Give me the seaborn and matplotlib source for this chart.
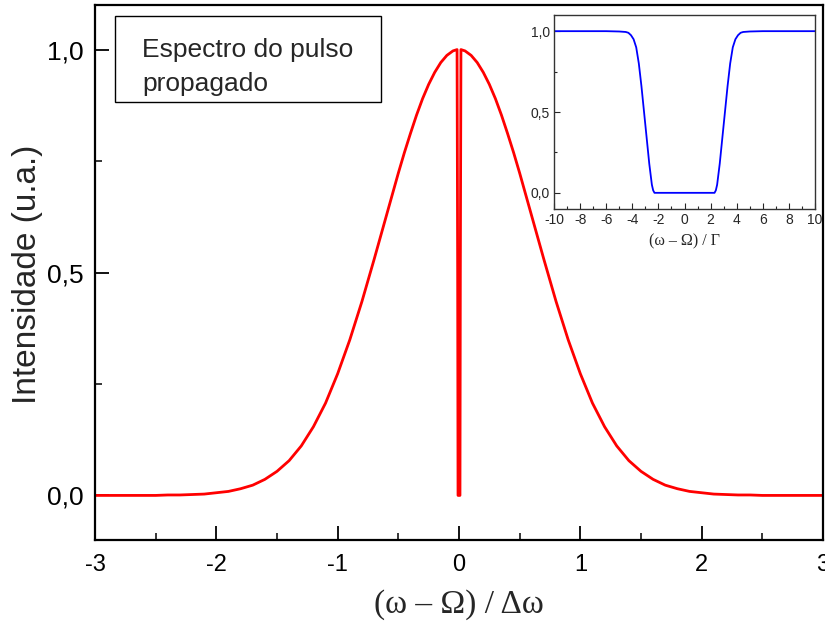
import numpy as np
import pandas as pd
import matplotlib
matplotlib.use("Agg")
import matplotlib.pyplot as plt
import seaborn as sns
from matplotlib.patches import Rectangle
from matplotlib.ticker import MultipleLocator, FixedLocator

# ---- main spectrum ----
main_x = [-3.0, -2.9, -2.8, -2.7, -2.6, -2.5, -2.4, -2.3, -2.2, -2.1, -2.0,
          -1.9, -1.8, -1.7, -1.6, -1.5, -1.4, -1.3, -1.2, -1.1, -1.0,
          -0.9, -0.8, -0.7, -0.6, -0.5, -0.45, -0.4, -0.35, -0.3, -0.25, -0.2, -0.15, -0.1, -0.05,
          -0.016, -0.011, -0.008, 0.008, 0.011, 0.016,
          0.05, 0.1, 0.15, 0.2, 0.25, 0.3, 0.35, 0.4, 0.45, 0.5, 0.6, 0.7, 0.8, 0.9, 1.0,
          1.1, 1.2, 1.3, 1.4, 1.5, 1.6, 1.7, 1.8, 1.9, 2.0,
          2.1, 2.2, 2.3, 2.4, 2.5, 2.6, 2.7, 2.8, 2.9, 3.0]
main_y = [0.000, 0.000, 0.000, 0.000, 0.000, 0.000, 0.001, 0.001, 0.002, 0.003, 0.006,
          0.009, 0.015, 0.023, 0.036, 0.054, 0.078, 0.111, 0.154, 0.207, 0.273,
          0.349, 0.435, 0.529, 0.626, 0.723, 0.769, 0.812, 0.853, 0.890, 0.922, 0.949, 0.971, 0.987, 0.997,
          1.000, 0.500, 0.000, 0.000, 0.500, 1.000,
          0.997, 0.987, 0.971, 0.949, 0.922, 0.890, 0.853, 0.812, 0.769, 0.723, 0.626, 0.529, 0.435, 0.349, 0.273,
          0.207, 0.154, 0.111, 0.078, 0.054, 0.036, 0.023, 0.015, 0.009, 0.006,
          0.003, 0.002, 0.001, 0.001, 0.000, 0.000, 0.000, 0.000, 0.000, 0.000]

# ---- inset filter transmission ----
ins_x = [-10, -8, -6, -5, -4.5, -4.3, -4.1, -3.9, -3.7, -3.5, -3.3, -3.1, -2.9, -2.7, -2.5, -2.4, -2.3,
         2.3, 2.4, 2.5, 2.7, 2.9, 3.1, 3.3, 3.5, 3.7, 3.9, 4.1, 4.3, 4.5, 5, 6, 8, 10]
ins_y = [1.0, 1.0, 1.0, 0.998, 0.995, 0.99, 0.975, 0.95, 0.90, 0.80, 0.66, 0.50, 0.34, 0.18, 0.05, 0.015, 0.0,
         0.0, 0.015, 0.05, 0.18, 0.34, 0.50, 0.66, 0.80, 0.90, 0.95, 0.975, 0.99, 0.995, 0.998, 1.0, 1.0, 1.0]

main_xticks = [-3, -2, -1, 0, 1, 2, 3]
main_yticks = [0.0, 0.5, 1.0]
main_ytick_labels = ["0,0", "0,5", "1,0"]
ins_xticks = [-10, -8, -6, -4, -2, 0, 2, 4, 6, 8, 10]
ins_yticks = [0.0, 0.5, 1.0]
ins_ytick_labels = ["0,0", "0,5", "1,0"]

sns.set_style("ticks")
plt.rcParams['font.family'] = ['Liberation Sans', 'DejaVu Sans']
SERIF = ["Liberation Serif", "DejaVu Serif"]

W, H = 825, 624
fig = plt.figure(figsize=(W / 100, H / 100), dpi=100)

def fx(p):
    return p / W

def fy(p):
    return 1 - p / H

# main axes
AL, AR, AT, AB = 95, 823, 5, 540
ax = fig.add_axes([fx(AL), fy(AB), fx(AR) - fx(AL), fy(AT) - fy(AB)])
df = pd.DataFrame({"x": main_x, "y": main_y})
sns.lineplot(data=df, x="x", y="y", ax=ax, color="#ff0000", linewidth=2.0,
             estimator=None, sort=False)
ax.set_xlim(-3, 3)
ax.set_ylim(-0.1, 1.1)
ax.set_xticks(main_xticks)
ax.set_xticklabels([str(t) for t in main_xticks])
ax.set_yticks(main_yticks)
ax.set_yticklabels(main_ytick_labels)
ax.xaxis.set_minor_locator(MultipleLocator(0.5))
ax.yaxis.set_minor_locator(FixedLocator([0.25, 0.75]))
ax.tick_params(which="major", direction="in", length=10, width=1.3, colors="black")
ax.tick_params(which="minor", direction="in", length=5, width=1.3)
ax.tick_params(axis="x", which="major", labelsize=17, pad=10)
ax.tick_params(axis="y", which="major", labelsize=19, pad=8.5)
ax.tick_params(top=False, right=False, which="both")
for s in ax.spines.values():
    s.set_visible(True)
    s.set_linewidth(1.6)
    s.set_color("black")
ax.set_xlabel("(ω – Ω) / Δω", fontsize=24, family=SERIF)
ax.xaxis.label.set_va("center")
ax.xaxis.set_label_coords(0.5, -(605 - AB) / (AB - AT))
ax.set_ylabel("Intensidade (u.a.)", fontsize=24)
ax.yaxis.label.set_va("center")
ax.yaxis.set_label_coords(-(AL - 28) / (AR - AL), 0.496)

# text box
fig.patches.append(Rectangle((fx(115), fy(102)), fx(381) - fx(115), fy(16) - fy(102),
                             transform=fig.transFigure, facecolor="white",
                             edgecolor="black", linewidth=1.0, zorder=5))
fig.text(fx(142), fy(57), "Espectro do pulso", fontsize=19, va="baseline", ha="left", zorder=6)
fig.text(fx(142), fy(91), "propagado", fontsize=19, va="baseline", ha="left", zorder=6)

# inset
IL, IR, IT, IB = 554, 815, 15, 209
axi = fig.add_axes([fx(IL), fy(IB), fx(IR) - fx(IL), fy(IT) - fy(IB)])
dfi = pd.DataFrame({"x": ins_x, "y": ins_y})
sns.lineplot(data=dfi, x="x", y="y", ax=axi, color="#0000ff", linewidth=1.3,
             estimator=None, sort=False)
axi.set_xlim(-10, 10)
axi.set_ylim(-0.1, 1.1)
axi.set_xticks(ins_xticks)
axi.set_xticklabels([str(t) for t in ins_xticks])
axi.set_yticks(ins_yticks)
axi.set_yticklabels(ins_ytick_labels)
axi.xaxis.set_minor_locator(MultipleLocator(1))
axi.yaxis.set_minor_locator(FixedLocator([0.25, 0.75]))
axi.tick_params(which="major", direction="in", length=4, width=0.8, labelsize=10, pad=3)
axi.tick_params(which="minor", direction="in", length=2, width=0.8)
axi.tick_params(top=False, right=False, which="both")
for s in axi.spines.values():
    s.set_visible(True)
    s.set_linewidth(1.0)
    s.set_color("#333333")
axi.set_xlabel("(ω – Ω) / Γ", fontsize=11.5, family=SERIF)
axi.xaxis.label.set_va("center")
axi.xaxis.set_label_coords(0.5, -(241 - IB) / (IB - IT))
axi.set_ylabel("")

fig.savefig("out.png", dpi=100)
